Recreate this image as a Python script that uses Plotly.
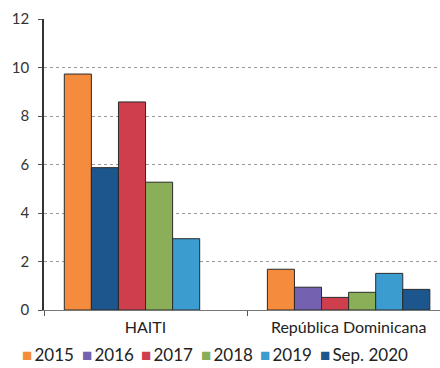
import plotly.graph_objects as go

categories = ["HAITI", "República Dominicana"]
series_names = ["2015", "2016", "2017", "2018", "2019", "Sep. 2020"]
series_colors = ["#F58B3C", "#7462B0", "#CF3E4C", "#8AAF58", "#3B9DCF", "#1D568C"]

values_2015 = [9.73, 1.68]
values_2016 = [5.87, 0.94]
values_2017 = [8.58, 0.52]
values_2018 = [5.27, 0.73]
values_2019 = [2.94, 1.51]
values_sep_2020 = [None, 0.85]

series_values = [values_2015, values_2016, values_2017, values_2018, values_2019, values_sep_2020]

# the HAITI 2016 bar is shaded in the Sep. 2020 blue
point_colors = {"2016": ["#1D568C", "#7462B0"]}

W, H = 440, 368
M_L, M_R, M_T, M_B = 44, 0, 19, 58
font = "Lato, 'Open Sans', sans-serif"

fig = go.Figure()
for name, vals, col in zip(series_names, series_values, series_colors):
    fig.add_trace(go.Bar(
        name=name, x=categories, y=vals, showlegend=False,
        marker=dict(color=point_colors.get(name, col),
                    line=dict(color="#2a2a2a", width=1)),
    ))

# single-row key under the chart: coloured square + series name
plot_w = W - M_L - M_R
key_x0, key_step = 20, 59.5
for i, (name, col) in enumerate(zip(series_names, series_colors)):
    fig.add_annotation(
        text=f"<span style='color:{col}'>■</span>&#8201;{name}",
        xref="paper", yref="paper",
        x=(key_x0 + i * key_step - M_L) / plot_w,
        y=-(355 - (H - M_B)) / (H - M_T - M_B),
        xanchor="left", yanchor="middle", showarrow=False,
        font=dict(size=17, color="#222222", family=font),
    )

fig.update_layout(
    width=W, height=H,
    margin=dict(l=M_L, r=M_R, t=M_T, b=M_B, autoexpand=False),
    paper_bgcolor="white", plot_bgcolor="white",
    barmode="group", bargap=0.2, bargroupgap=0,
    font=dict(family=font, size=14, color="#333333"),
    showlegend=False,
)
fig.update_xaxes(
    range=[-0.5, 1.45],
    showline=True, linecolor="#777777", linewidth=1,
    ticks="outside", tickson="boundaries", ticklen=5, tickcolor="#555555",
    tickfont=dict(size=16, color="#222222"), ticklabelstandoff=3,
)
fig.update_yaxes(
    range=[0, 12], dtick=2,
    showline=True, linecolor="#333333", linewidth=1.5,
    ticks="outside", ticklen=4, tickcolor="#555555",
    showgrid=True, gridcolor="#9a9a9a", griddash="dot", gridwidth=1,
    tickfont=dict(size=15, color="#333333"), ticklabelstandoff=6,
    zeroline=False,
)

fig.write_html("out.html")
